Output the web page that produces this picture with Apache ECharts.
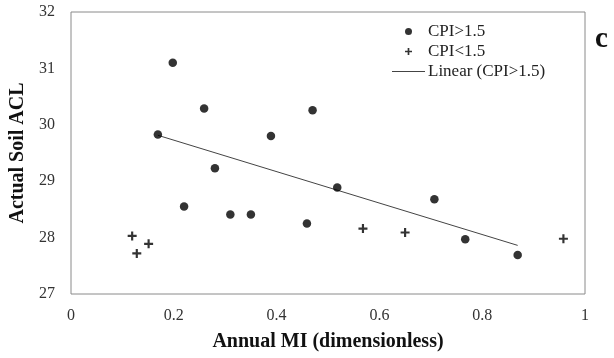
<!DOCTYPE html>
<html>
<head>
<meta charset="utf-8">
<script src="https://cdn.jsdelivr.net/npm/echarts@6/dist/echarts.min.js"></script>
<style>html,body{margin:0;padding:0;background:#fff;}#c{width:614px;height:358px;}</style>
</head>
<body>
<div id="c"></div>
<script>
// CPI>1.5 points
var hiX = [0.169, 0.198, 0.220, 0.259, 0.280, 0.310, 0.350, 0.389, 0.459, 0.470, 0.518, 0.707, 0.767, 0.869];
var hiY = [29.83, 31.10, 28.55, 30.29, 29.23, 28.41, 28.41, 29.80, 28.25, 30.26, 28.89, 28.68, 27.97, 27.69];
// CPI<1.5 points
var loX = [0.119, 0.128, 0.151, 0.568, 0.650, 0.958];
var loY = [28.03, 27.72, 27.89, 28.16, 28.09, 27.98];
var seriesNames = ['CPI>1.5', 'CPI<1.5', 'Linear (CPI>1.5)'];
var xTitle = 'Annual MI (dimensionless)';
var yTitle = 'Actual Soil ACL';
var panelLabel = 'c';

function pairs(xs, ys){ return xs.map(function(x,i){ return [x, ys[i]]; }); }
// least-squares trend line over the CPI>1.5 points
function trend(xs, ys){
  var n = xs.length, mx = 0, my = 0;
  for (var i=0;i<n;i++){ mx += xs[i]; my += ys[i]; }
  mx/=n; my/=n;
  var sxy=0, sxx=0;
  for (var j=0;j<n;j++){ sxy += (xs[j]-mx)*(ys[j]-my); sxx += (xs[j]-mx)*(xs[j]-mx); }
  var b = sxy/sxx, a = my - b*mx;
  var x0 = Math.min.apply(null, xs), x1 = Math.max.apply(null, xs);
  return [[x0, a+b*x0],[x1, a+b*x1]];
}
var plus = 'path://M3.8,0H6.2V3.8H10V6.2H6.2V10H3.8V6.2H0V3.8H3.8Z';
var lineIcon = 'path://M0,0H33V1H0Z';
var font = '"Liberation Serif", "Times New Roman", serif';

var chart = echarts.init(document.getElementById('c'), null, {renderer:'canvas'});
chart.setOption({
  animation: false,
  backgroundColor: '#fff',
  title: {
    text: panelLabel, left: 595, top: 25, padding: 0,
    textStyle: {fontFamily: font, fontSize: 29, fontWeight: 'bold', color: '#111'}
  },
  grid: {left: 66, top: 12, width: 519, height: 282, show: true, borderColor: '#8a8a8a', borderWidth: 1, containLabel: false},
  legend: {
    orient: 'vertical', left: 392, top: 23, padding: 0,
    itemWidth: 33, itemHeight: 7, itemGap: 3,
    textStyle: {fontFamily: font, fontSize: 17, color: '#222', lineHeight: 17, padding: [0,0,0,-2]},
    data: [
      {name: seriesNames[0], icon: 'circle'},
      {name: seriesNames[1], icon: plus},
      {name: seriesNames[2], icon: lineIcon}
    ]
  },
  xAxis: {
    type: 'value', min: 0, max: 1, interval: 0.2,
    name: xTitle, nameLocation: 'middle', nameGap: 38,
    nameTextStyle: {fontFamily: font, fontSize: 20, fontWeight: 'bold', color: '#111'},
    axisLine: {show: false}, axisTick: {show: false}, splitLine: {show: false},
    axisLabel: {fontFamily: font, fontSize: 16, color: '#333', margin: 14}
  },
  yAxis: {
    type: 'value', min: 27, max: 32, interval: 1,
    name: yTitle, nameLocation: 'middle', nameGap: 43, nameRotate: 90,
    nameTextStyle: {fontFamily: font, fontSize: 20, fontWeight: 'bold', color: '#111'},
    axisLine: {show: false}, axisTick: {show: false}, splitLine: {show: false},
    axisLabel: {fontFamily: font, fontSize: 16, color: '#333', margin: 16}
  },
  series: [
    {name: seriesNames[0], type: 'scatter', data: pairs(hiX, hiY), symbol: 'circle', symbolSize: 8.5,
     itemStyle: {color: '#000'}},
    {name: seriesNames[1], type: 'scatter', data: pairs(loX, loY), symbol: plus, symbolSize: 9,
     itemStyle: {color: '#000'}},
    {name: seriesNames[2], type: 'line', data: trend(hiX, hiY), symbol: 'none', showSymbol: false,
     lineStyle: {color: '#444', width: 1}, itemStyle: {color: '#444'}, z: 1}
  ]
});
</script>
</body>
</html>
